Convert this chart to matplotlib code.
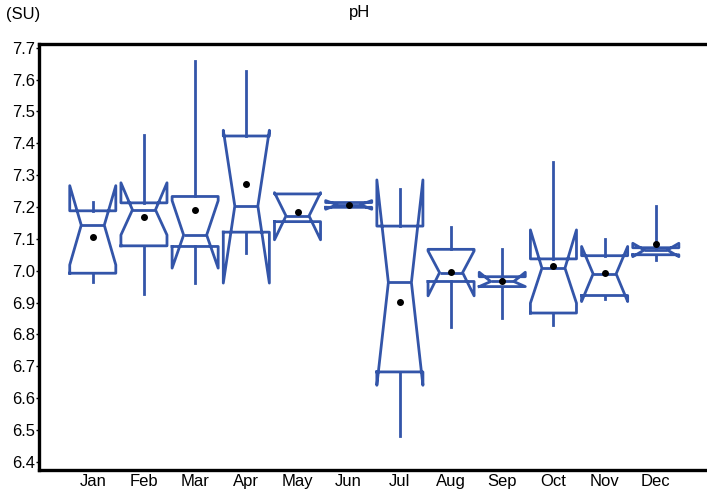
import matplotlib.pyplot as plt

# monthly pH statistics
months = ['Jan', 'Feb', 'Mar', 'Apr', 'May', 'Jun',
          'Jul', 'Aug', 'Sep', 'Oct', 'Nov', 'Dec']
med = [7.143, 7.191, 7.112, 7.203, 7.172, 7.207, 6.963, 6.994, 6.966, 7.008, 6.990, 7.065]
q1 = [6.992, 7.078, 7.076, 7.121, 7.154, 7.199, 6.682, 6.966, 6.950, 6.867, 6.922, 7.050]
q3 = [7.188, 7.213, 7.233, 7.423, 7.241, 7.214, 7.140, 7.067, 6.981, 7.037, 7.047, 7.072]
ci_lo = [7.018, 7.112, 7.008, 6.961, 7.097, 7.193, 6.640, 6.921, 6.950, 6.898, 6.903, 7.044]
ci_hi = [7.267, 7.276, 7.220, 7.441, 7.245, 7.220, 7.285, 7.062, 6.995, 7.128, 7.076, 7.086]
whis_lo = [6.964, 6.927, 6.962, 7.055, 7.154, 7.199, 6.480, 6.823, 6.851, 6.830, 6.910, 7.034]
whis_hi = [7.215, 7.426, 7.659, 7.627, 7.241, 7.214, 7.256, 7.138, 7.068, 7.342, 7.100, 7.203]
means = [7.106, 7.170, 7.191, 7.271, 7.185, 7.206, 6.903, 6.996, 6.968, 7.015, 6.994, 7.084]

stats = []
for i, m in enumerate(months):
    stats.append({
        'label': m, 'med': med[i], 'q1': q1[i], 'q3': q3[i],
        'cilo': ci_lo[i], 'cihi': ci_hi[i],
        'whislo': whis_lo[i], 'whishi': whis_hi[i],
        'mean': means[i], 'fliers': [],
    })

plt.rcParams['font.family'] = ['Liberation Sans', 'DejaVu Sans']

blue = '#3355a9'
fig = plt.figure(figsize=(7.07, 4.93), dpi=100)
ax = fig.add_axes([0.0552, 0.0467, 0.9448, 0.8641])

line_kw = dict(color=blue, linewidth=2.0)
ax.bxp(stats, positions=range(1, 13), widths=0.9, shownotches=True,
       showmeans=True, showcaps=False, showfliers=False,
       boxprops=line_kw, whiskerprops=line_kw, medianprops=line_kw,
       meanprops=dict(marker='o', markerfacecolor='black',
                      markeredgecolor='black', markersize=4))

ax.set_xlim(-0.05, 13.0)
ax.set_ylim(6.374, 7.712)
ax.set_yticks([6.4 + 0.1 * k for k in range(14)])
ax.set_yticklabels([f'{6.4 + 0.1 * k:.1f}' for k in range(14)])

for side in ['left', 'bottom', 'top']:
    ax.spines[side].set_linewidth(2.4)
ax.spines['right'].set_visible(False)

ax.tick_params(axis='y', length=2, width=1, pad=1, labelsize=12)
ax.tick_params(axis='x', length=0, pad=3, labelsize=12)

fig.text(0.508, 0.975, 'pH', ha='center', va='center', fontsize=12)
fig.text(0.008, 0.970, '(SU)', ha='left', va='center', fontsize=12)

plt.savefig('out.png', dpi=100)
plt.close()
